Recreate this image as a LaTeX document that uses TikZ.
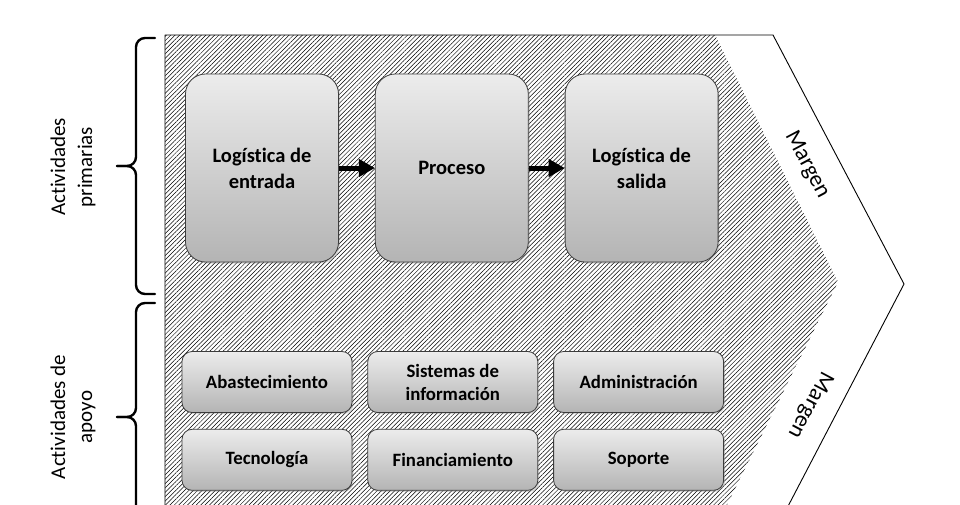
\documentclass[tikz,border=0pt]{standalone}
\usepackage{fontspec}
\setmainfont{Carlito}[Ligatures={NoCommon,NoContextual}]
\usetikzlibrary{positioning,patterns.meta,shadows,arrows.meta}
\definecolor{boxtop}{RGB}{236,236,236}
\definecolor{boxbot}{RGB}{180,180,180}
\definecolor{boxline}{RGB}{60,60,60}

\begin{document}
\begin{tikzpicture}[x=1pt,y=-1pt,line join=round,
  primbox/.style={draw=boxline,line width=0.8pt,rounded corners=20pt,
    top color=boxtop,bottom color=boxbot,minimum width=153pt,minimum height=188pt,
    align=center,font=\fontsize{20.5}{26}\selectfont\bfseries,
    drop shadow={opacity=0.3,shadow xshift=1.5pt,shadow yshift=-1.5pt}},
  supbox/.style={draw=boxline,line width=0.8pt,rounded corners=10pt,
    top color=boxtop,bottom color=boxbot,minimum width=170pt,minimum height=61pt,
    align=center,font=\fontsize{18.8}{23}\selectfont\bfseries,
    drop shadow={opacity=0.3,shadow xshift=1.5pt,shadow yshift=-1.5pt}},
  sidelabel/.style={rotate=90,align=center,font=\fontsize{21}{27}\selectfont},
  marginlabel/.style={font=\fontsize{23}{26}\selectfont},
  flow/.style={line width=5pt,-{Triangle[length=16pt,width=17pt]}},
  bracket/.style={line width=2.4pt,line cap=round,rounded corners=9pt}]
\useasboundingbox (0,0) rectangle (960,504);
\clip (0,0) rectangle (960,504);
% chevron and hatched value chain
\fill[white] (165,35) -- (773,35) -- (904,284) -- (773,535) -- (165,535) -- cycle;
\fill[pattern={Lines[angle=45,distance=3.1pt,line width=0.5pt]}]
    (165,35) -- (715,35) -- (838,282) -- (715,529) -- (165,529) -- cycle;
\draw[line width=0.9pt] (165,35) -- (773,35) -- (904,284) -- (773,535) -- (165,535) -- cycle;
% primary activities
\node[primbox] (entrada) at (262,168) {Logística de\\entrada};
\node[primbox,right=36pt of entrada] (proceso) {Proceso};
\node[primbox,right=36pt of proceso] (salida) {Logística de\\salida};
\draw[flow] (entrada) -- (proceso);
\draw[flow] (proceso) -- (salida);
% support activities
\node[supbox] (abast) at (267,382) {Abastecimiento};
\node[supbox,right=15pt of abast] (sistemas) {Sistemas de\\información};
\node[supbox,right=15pt of sistemas] (admin) {Administración};
\node[supbox,below=16pt of abast] (tecno) {Tecnología};
\node[supbox,right=15pt of tecno] (financ) {Financiamiento};
\node[supbox,right=15pt of financ] (soporte) {Soporte};
% margin labels
\node[marginlabel,rotate=-62] (margen1) at (807,165) {Margen};
\node[marginlabel,rotate=-118] (margen2) at (810,405) {Margen};
% braces and side labels
\draw[bracket] (155,38) -- (136,38) -- (136,166) -- (117,166);
\draw[bracket] (117,166) -- (136,166) -- (136,294) -- (155,294);
\draw[bracket] (155,303) -- (136,303) -- (136,417) -- (117,417);
\draw[bracket] (117,417) -- (136,417) -- (136,531) -- (155,531);
\node[sidelabel] (primarias) at (73,167) {Actividades\\primarias};
\node[sidelabel] (apoyo) at (73,417) {Actividades de\\apoyo};
\end{tikzpicture}
\end{document}
